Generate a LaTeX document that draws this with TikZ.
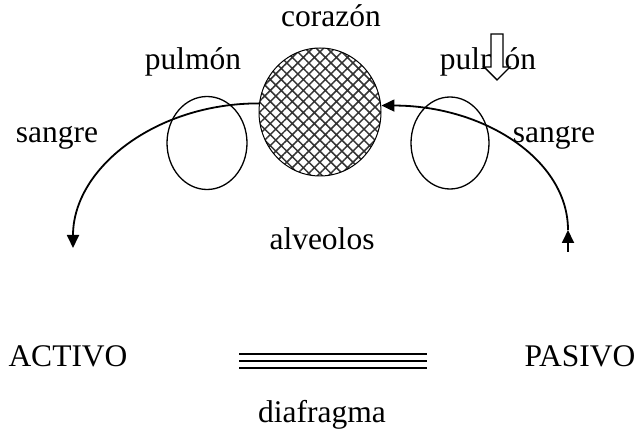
\documentclass[tikz,border=0pt]{standalone}
\usepackage{fontspec}
\setmainfont{Liberation Serif}
\usetikzlibrary{shapes.geometric,arrows.meta,patterns.meta,positioning}
\tikzset{
	heartball/.style={
		draw, ellipse, inner sep=0pt, line width=1pt,
		minimum width=122pt, minimum height=128pt,
		pattern={Hatch[angle=45,distance=7.8pt,line width=1.5pt]},
		pattern color=black!80
	},
	lung/.style={draw, ellipse, inner sep=0pt, line width=1.3pt},
	word/.style={anchor=base, inner sep=0pt, font=\fontsize{31.5}{38}\selectfont},
	blood/.style={line width=1.8pt, -{Triangle[length=13pt,width=12pt]}},
	diaph/.style={line width=1.9pt}
}
\begin{document}
\begin{tikzpicture}[x=1pt,y=-1pt]
				\useasboundingbox (0,0) rectangle (642,438);
				\node[heartball] (heart) at (320,112) {};
				\node[lung, minimum width=80pt, minimum height=93pt] (lungL) at (207,143) {};
				\node[lung, minimum width=78pt, minimum height=92pt] (lungR) at (450,143) {};
				\node[word] (corazon) at (331,27) {corazón};
				\node[word] (pulmonL) at (193,70) {pulmón};
				\node[word] (pulmonR) at (488,70) {pulmón};
				\node[word] (sangreL) at (57,143) {sangre};
				\node[word] (sangreR) at (554,143) {sangre};
				\node[word] (alveolos) at (322,250) {alveolos};
				\node[word] (activo) at (68,366) {ACTIVO};
				\node[word] (pasivo) at (580,366) {PASIVO};
				\node[word] (diafragma) at (322,422) {diafragma};
				\coordinate (lend) at (73,248);
				\coordinate (rbase) at (568,252);
				\coordinate (rtip) at (568,230);
				% blood leaving and coming back
				\draw[blood] (heart.172) .. controls +(-103,0) and +(0,-80) .. (lend);
				\draw[blood] (rbase) -- (rtip);
				\draw[blood] (rtip) .. controls +(0,-70) and +(103,0) .. (heart.6);
				% hollow arrow over the right lung label
				\draw[line width=1.4pt, fill=white] (491,34) -- (503,34) -- (503,67) -- (510,67)
					-- (497,80) -- (484,67) -- (491,67) -- cycle;
				% diaphragm
				\foreach \y in {354,361,368}
					\draw[diaph] (239,\y) -- (427,\y);
			\end{tikzpicture}
\end{document}
